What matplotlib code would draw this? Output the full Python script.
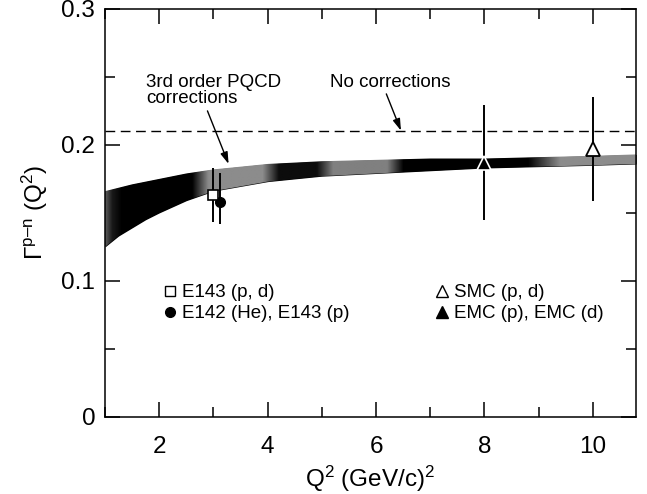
import matplotlib
matplotlib.use("Agg")
import matplotlib.pyplot as plt
from matplotlib.lines import Line2D
from matplotlib.ticker import MultipleLocator
import numpy as np

plt.rcParams['font.family'] = ['Liberation Sans', 'DejaVu Sans']
plt.rcParams['mathtext.fontset'] = 'custom'
plt.rcParams['mathtext.rm'] = 'Liberation Sans'
plt.rcParams['mathtext.it'] = 'Liberation Sans'

# 3rd order PQCD band (upper / lower edge vs Q^2)
band_q2 = [1.0, 1.25, 1.5, 1.75, 2.0, 2.5, 3.0, 4.0, 5.0, 6.0, 7.0, 8.0, 9.0, 10.0, 10.8]
band_hi = [0.166, 0.1685, 0.171, 0.173, 0.175, 0.179, 0.182, 0.186, 0.188, 0.189, 0.190, 0.190, 0.191, 0.192, 0.193]
band_lo = [0.125, 0.133, 0.139, 0.145, 0.150, 0.159, 0.166, 0.173, 0.177, 0.179, 0.181, 0.183, 0.184, 0.185, 0.186]

no_corr = 0.21

# measurements
e143_q2, e143_val, e143_err = [3.0], [0.163], [0.020]
e142_q2, e142_val = [3.13], [0.158]
e142_lo, e142_hi = [0.016], [0.021]
emc_q2, emc_val, emc_err = [8.0], [0.187], [0.042]
smc_q2, smc_val, smc_err = [10.0], [0.197], [0.038]

# grey stipple along the band
shade_q2 = [1.0, 1.12, 1.3, 2.6, 2.9, 3.9, 4.2, 4.9, 5.2, 6.2, 6.5, 8.8, 9.4, 10.8]
shade_lv = [0.35, 0.1, 0.0, 0.0, 0.55, 0.55, 0.05, 0.05, 0.5, 0.5, 0.0, 0.0, 0.55, 0.55]

fig = plt.figure(figsize=(6.47, 4.94), dpi=100)
ax = fig.add_axes([0.1623, 0.156, 0.821, 0.826])

band = ax.fill_between(band_q2, band_lo, band_hi, color='black', lw=0, zorder=1)
xg = np.linspace(band_q2[0], band_q2[-1], 400)
img = np.interp(xg, shade_q2, shade_lv)[None, :]
im = ax.imshow(img, cmap='gray', vmin=0, vmax=1, aspect='auto', zorder=2,
               extent=(band_q2[0], band_q2[-1], min(band_lo), max(band_hi)),
               interpolation='bilinear')
im.set_clip_path(band.get_paths()[0], transform=ax.transData)

ax.axhline(no_corr, color='black', lw=1.0, ls=(0, (7, 4)), zorder=1)

ebk = dict(fmt='none', ecolor='black', elinewidth=1.4, capsize=0, zorder=3)
ax.errorbar(e142_q2, e142_val, yerr=[e142_lo, e142_hi], **ebk)
ax.errorbar(e143_q2, e143_val, yerr=e143_err, **ebk)
ax.errorbar(emc_q2, emc_val, yerr=emc_err, **ebk)
ax.errorbar(smc_q2, smc_val, yerr=smc_err, **ebk)
ax.plot(e142_q2, e142_val, 'o', ms=7, color='black', zorder=4)
ax.plot(e143_q2, e143_val, 's', ms=7, mfc='white', mec='black', mew=1.2, zorder=5)
ax.plot(emc_q2, emc_val, '^', ms=10, mfc='black', mec='white', mew=1.2, zorder=5)
ax.plot(smc_q2, smc_val, '^', ms=10, mfc='white', mec='black', mew=1.3, zorder=5)

ax.text(1.76, 0.240, '3rd order PQCD\ncorrections', fontsize=13.5, va='center',
        ha='left', linespacing=0.95)
ax.text(5.15, 0.246, 'No corrections', fontsize=13.5, va='center', ha='left')
arr = dict(arrowstyle='-|>,head_length=0.7,head_width=0.22', color='black', lw=1.0,
           shrinkA=0, shrinkB=0)
ax.annotate('', xy=(3.28, 0.186), xytext=(2.89, 0.225), arrowprops=arr)
ax.annotate('', xy=(6.46, 0.2105), xytext=(6.19, 0.2375), arrowprops=arr)

handles = [
    Line2D([], [], ls='none', marker='s', ms=7, mfc='white', mec='black', mew=1.0),
    Line2D([], [], ls='none', marker='o', ms=7, color='black'),
    Line2D([], [], ls='none', marker='^', ms=9, mfc='white', mec='black', mew=1.0),
    Line2D([], [], ls='none', marker='^', ms=9, color='black'),
]
labels = ['E143 (p, d)', 'E142 (He), E143 (p)', 'SMC (p, d)', 'EMC (p), EMC (d)']
ax.legend(handles, labels, ncol=2, frameon=False, loc='upper left',
          bbox_to_anchor=(0.112, 0.325), fontsize=13.5, handlelength=0.6,
          handletextpad=0.35, columnspacing=4.6, labelspacing=0.2,
          borderpad=0, borderaxespad=0)

ax.set_xlim(1.0, 10.8)
ax.set_ylim(0, 0.3)
ax.xaxis.set_major_locator(MultipleLocator(2))
ax.xaxis.set_minor_locator(MultipleLocator(1))
ax.yaxis.set_major_locator(MultipleLocator(0.1))
ax.yaxis.set_minor_locator(MultipleLocator(0.05))
ax.set_yticklabels(['0', '0.1', '0.2', '0.3'])
ax.set_yticks([0, 0.1, 0.2, 0.3])
ax.set_yticklabels(['0', '0.1', '0.2', '0.3'])
ax.tick_params(which='both', direction='in', top=True, right=True, labelsize=17.5)
ax.tick_params(which='major', length=11, width=1.1)
ax.tick_params(which='minor', length=7, width=1.1)
ax.tick_params(axis='x', pad=14)
ax.tick_params(axis='y', pad=7)
for s in ax.spines.values():
    s.set_linewidth(1.1)

ax.set_xlabel('Q$^2$ (GeV/c)$^2$', fontsize=17.5, labelpad=4)
ax.set_ylabel('$\\Gamma^{\\mathrm{p\u2013n}}$ (Q$^2$)', fontsize=17.5, labelpad=8)

fig.savefig('out.png', dpi=100)
